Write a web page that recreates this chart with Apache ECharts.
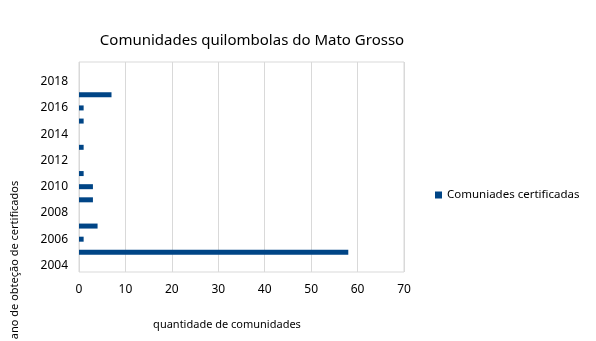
<!DOCTYPE html>
<html><head><meta charset="utf-8">
<script src="https://cdn.jsdelivr.net/npm/echarts@6/dist/echarts.min.js"></script>
<style>html,body{margin:0;padding:0;background:#fff}#c{width:596px;height:341px}</style>
</head><body><div id="c"></div>
<script>
var years = ['2004','2005','2006','2007','2008','2009','2010','2011','2012','2013','2014','2015','2016','2017','2018','2019'];
var certificadas = [0,58,1,4,0,3,3,1,0,1,0,1,1,7,0,0];
var xTicks = [0,10,20,30,40,50,60,70];
var FONT = '"Noto Sans", sans-serif';
var chart = echarts.init(document.getElementById('c'));
chart.setOption({
  animation:false,
  title:{text:'Comunidades quilombolas do Mato Grosso',left:247,top:28,textAlign:'center',
    textStyle:{fontFamily:FONT,fontSize:15,fontWeight:'normal',color:'#000'}},
  legend:{data:['Comuniades certificadas'],left:430,top:184,itemWidth:7,itemHeight:7,itemGap:5,
    icon:'rect',textStyle:{fontFamily:FONT,fontSize:11.5,color:'#000'}},
  grid:{left:79,right:192,top:62,bottom:69,show:true,borderColor:'#d9d9d9',borderWidth:1},
  xAxis:{type:'value',min:xTicks[0],max:xTicks[xTicks.length-1],interval:10,
    axisLine:{show:false},axisTick:{show:false},
    splitLine:{lineStyle:{color:'#d9d9d9'}},
    axisLabel:{fontFamily:FONT,fontSize:12,color:'#000',margin:12}},
  yAxis:{type:'category',data:years,
    axisLine:{show:false},axisTick:{show:false},splitLine:{show:false},
    axisLabel:{interval:1,fontFamily:FONT,fontSize:12,color:'#000',margin:11}},
  series:[{name:'Comuniades certificadas',type:'bar',data:certificadas,barWidth:5,
    itemStyle:{color:'#004586'}}],
  graphic:[
    {type:'text',x:227,y:325,style:{text:'quantidade de comunidades',fontFamily:FONT,fontSize:11,fill:'#000',align:'center',verticalAlign:'middle'}},
    {type:'text',x:15,y:260,rotation:Math.PI/2,style:{text:'ano de obteção de certificados',fontFamily:FONT,fontSize:11,fill:'#000',align:'center',verticalAlign:'middle'}}
  ]
});
</script></body></html>
